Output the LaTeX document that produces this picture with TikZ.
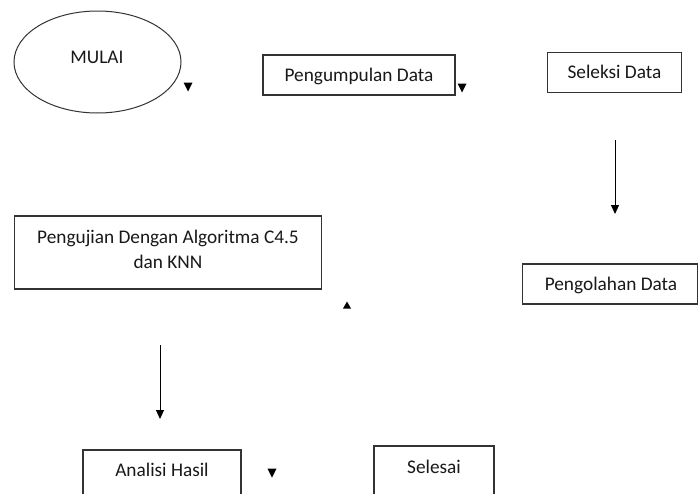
\documentclass[tikz,border=0pt]{standalone}
\usepackage{fontspec}
\setmainfont{Carlito}
\usetikzlibrary{arrows.meta,shapes.geometric}
\begin{document}
\begin{tikzpicture}[x=1pt,y=-1pt,
  box/.style={draw=black!80,line width=1.1pt,rectangle,inner sep=0pt},
  lbl/.style={font=\fontsize{19.3}{25}\selectfont,text=black!90,inner sep=0pt},
  flow/.style={draw=black,line width=1pt,-{Triangle[width=8pt,length=9pt]}},
  tri/.style={fill=black}]
\useasboundingbox (0,0) rectangle (699,493);
\clip (0,0) rectangle (699,493);
\fill[white] (0,0) rectangle (699,493);
% start ellipse
\node[draw=black!80,line width=1pt,ellipse,minimum width=167pt,minimum height=102pt,inner sep=0pt] (mulai) at (97.5,62) {};
\node[lbl] (mulait) at (97,57) {MULAI};
% boxes
\node[box,minimum width=192pt,minimum height=40pt] (kumpul) at (359,75) {};
\node[lbl] (kumpult) at (359,76) {Pengumpulan Data};
\node[box,minimum width=134pt,minimum height=40pt] (seleksi) at (614.5,72.5) {};
\node[lbl] (seleksit) at (614.5,72) {Seleksi Data};
\node[box,minimum width=175pt,minimum height=40pt] (olah) at (610,284) {};
\node[lbl] (olaht) at (611,285) {Pengolahan Data};
\node[box,minimum width=307pt,minimum height=73pt] (uji) at (168,252.5) {};
\node[lbl,align=center] (ujit) at (168,249) {Pengujian Dengan Algoritma C4.5\\dan KNN};
\node[box,minimum width=158pt,minimum height=80pt] (analisi) at (162,490) {};
\node[lbl] (analisit) at (162,470) {Analisi Hasil};
\node[box,minimum width=120pt,minimum height=80pt] (selesai) at (434,486) {};
\node[lbl] (selesait) at (434,467) {Selesai};
% connectors
\coordinate (a1) at (615,140);
\coordinate (a2) at (615,214);
\draw[flow] (a1) -- (a2);
\coordinate (b1) at (160,345);
\coordinate (b2) at (160,419);
\draw[flow] (b1) -- (b2);
% loose arrowheads
\coordinate (t1) at (188,87);
\coordinate (t2) at (462,88);
\coordinate (t3) at (347,305);
\coordinate (t4) at (272,473);
\fill[tri] ([shift={(-4.5,-4.5)}]t1) -- ++(9,0) -- ++(-4.5,9) -- cycle;
\fill[tri] ([shift={(-4.5,-4.5)}]t2) -- ++(9,0) -- ++(-4.5,9) -- cycle;
\fill[tri] ([shift={(-4,3.5)}]t3) -- ++(8,0) -- ++(-4,-7) -- cycle;
\fill[tri] ([shift={(-4.5,-4.5)}]t4) -- ++(9,0) -- ++(-4.5,9) -- cycle;
\end{tikzpicture}
\end{document}
